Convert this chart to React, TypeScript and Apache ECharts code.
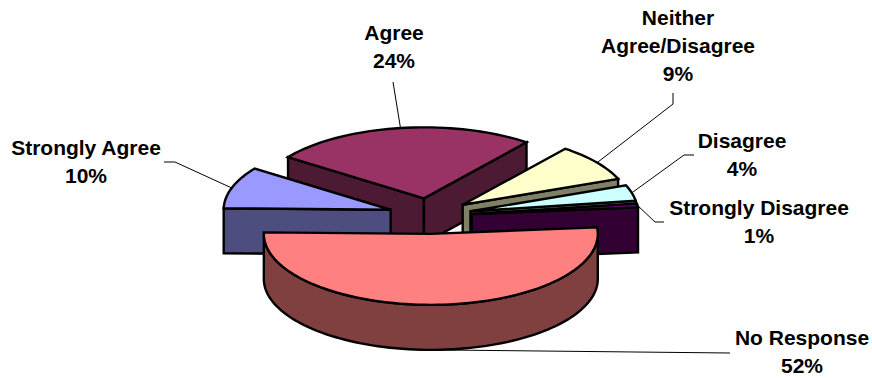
import React, { useEffect, useRef } from "react";
import * as echarts from "echarts";

// Survey responses, in clockwise order around the pie.
const categories = ["Strongly Agree", "Agree", "Neither\nAgree/Disagree", "Disagree", "Strongly Disagree", "No Response"];
const percentages = [10, 24, 9, 4, 1, 52];
const topColors = ["#9999FF", "#993366", "#FFFFCC", "#CCFFFF", "#660066", "#FF8080"];
const sideColors = ["#4D4D80", "#4D1A33", "#808066", "#668080", "#330033", "#804040"];

// Back-to-front paint order of the exploded slices.
const paintOrder = [1, 0, 2, 3, 4, 5];

// Projection of the tilted pie.
const CX = 430;
const CY = 216;
const RX = 167;
const RY = 71;
const DEPTH = 45;
const EXPLODE = 42;
const FIRST_ANGLE = 272.5;
// Slight angular distortion of the oblique view.
const SKEW_DEG = 3;
const SKEW_PHASE = 21;

// Where each label is centred, and the elbow of its leader line.
const labelBoxes = [
  { x: 86, y: 133, elbow: [[175, 162], [164, 162]] },
  { x: 394, y: 18, elbow: [[393, 82]] },
  { x: 678, y: 3, elbow: [[673, 104], [673, 93]] },
  { x: 742, y: 126, elbow: [[684, 155], [694, 155]] },
  { x: 759, y: 193, elbow: [[655, 222], [664, 222]] },
  { x: 802, y: 323, elbow: [[730, 353]] },
];

const rad = (deg: number) => (deg * Math.PI) / 180;

// Angles are clockwise from the top; a slice's start is kept within 0..360.
function sliceAngles() {
  const total = percentages.reduce((a, b) => a + b, 0);
  let cursor = FIRST_ANGLE;
  return percentages.map((p) => {
    const sweep = (p / total) * 360;
    const start = cursor % 360;
    cursor = start + sweep;
    return { start, end: cursor, mid: start + sweep / 2 };
  });
}

function apexOf(mid: number) {
  return [CX + EXPLODE * Math.sin(rad(mid)), CY - (EXPLODE * RY * Math.cos(rad(mid))) / RX];
}

function rimPoint(apex: number[], angle: number, drop = 0) {
  const seen = angle + SKEW_DEG * Math.sin(rad(2 * angle + SKEW_PHASE));
  return [apex[0] + RX * Math.sin(rad(seen)), apex[1] - RY * Math.cos(rad(seen)) + drop];
}

function arcPoints(apex: number[], from: number, to: number, drop = 0) {
  const steps = Math.max(2, Math.ceil(Math.abs(to - from) / 2));
  const pts: number[][] = [];
  for (let i = 0; i <= steps; i++) pts.push(rimPoint(apex, from + ((to - from) * i) / steps, drop));
  return pts;
}

function polygon(points: number[][], fill: string) {
  return {
    type: "polygon",
    shape: { points },
    style: { fill, stroke: "#000", lineWidth: 2.4, lineJoin: "miter" },
  };
}

function renderSlice(_params: any, api: any) {
  const idx = api.value(0) as number;
  const { start, end, mid } = sliceAngles()[idx];
  const apex = apexOf(mid);
  const base = [apex[0], apex[1] + DEPTH];
  const children: any[] = [];

  // Straight cut faces, only the ones turned towards the viewer.
  if (Math.sin(rad(start)) < 0) {
    children.push(polygon([apex, rimPoint(apex, start), rimPoint(apex, start, DEPTH), base], sideColors[idx]));
  }
  if (Math.sin(rad(end)) > 0) {
    children.push(polygon([apex, rimPoint(apex, end), rimPoint(apex, end, DEPTH), base], sideColors[idx]));
  }

  // Curved outer wall on the near half of the rim.
  const from = Math.max(start, 90);
  const to = Math.min(end, 270);
  if (to > from) {
    const wall = [...arcPoints(apex, from, to), ...arcPoints(apex, to, from, DEPTH)];
    children.push(polygon(wall, sideColors[idx]));
  }

  children.push(polygon([apex, ...arcPoints(apex, start, end)], topColors[idx]));
  return { type: "group", children };
}

function leaderLines() {
  const angles = sliceAngles();
  return labelBoxes.map((box, i) => {
    const mid = angles[i].mid;
    const apex = apexOf(mid);
    const near = Math.cos(rad(mid)) < 0;
    const anchor = rimPoint(apex, mid, near ? DEPTH : 0);
    return {
      type: "polyline",
      z: 1,
      shape: { points: [anchor, ...box.elbow] },
      style: { fill: "none", stroke: "#000", lineWidth: 1 },
    };
  });
}

function labelTexts() {
  return labelBoxes.map((box, i) => ({
    type: "text",
    z: 20,
    x: box.x,
    y: box.y,
    style: {
      text: `${categories[i]}\n${percentages[i]}%`,
      align: "center",
      verticalAlign: "top",
      fontFamily: "Liberation Sans",
      fontWeight: "bold",
      fontSize: 21,
      lineHeight: 28,
      fill: "#000",
    },
  }));
}

export default function App() {
  const ref = useRef<HTMLDivElement>(null);

  useEffect(() => {
    const chart = echarts.init(ref.current!, undefined, { renderer: "svg" });
    chart.setOption({
      animation: false,
      backgroundColor: "#fff",
      graphic: [...leaderLines(), ...labelTexts()],
      series: [
        {
          type: "custom",
          coordinateSystem: "none",
          z: 5,
          silent: true,
          data: paintOrder.map((i) => [i, percentages[i]]),
          renderItem: renderSlice,
        },
      ],
    });
    return () => chart.dispose();
  }, []);

  return <div ref={ref} style={{ position: "absolute", left: 0, top: 0, width: 872, height: 378 }} />;
}
